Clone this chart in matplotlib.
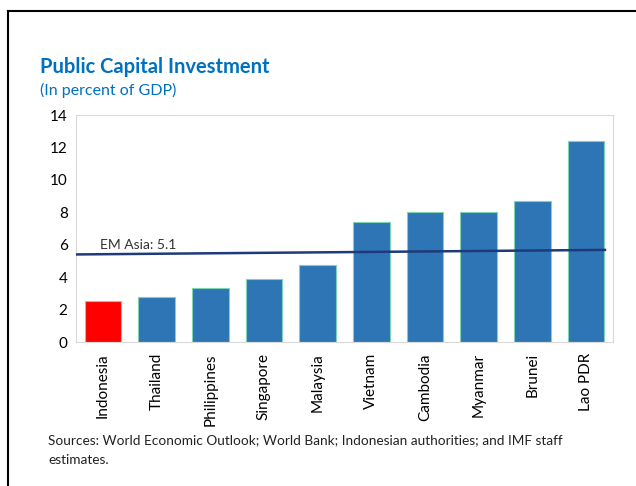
import numpy as np
import matplotlib.pyplot as plt
from matplotlib.lines import Line2D

countries = ["Indonesia", "Thailand", "Philippines", "Singapore", "Malaysia",
             "Vietnam", "Cambodia", "Myanmar", "Brunei", "Lao PDR"]
values = [2.5, 2.8, 3.3, 3.9, 4.75, 7.4, 8.0, 8.0, 8.7, 12.4]
em_x = [-0.5, 9.35]
em_y = [5.4, 5.68]
em_label = "EM Asia: 5.1"
yticks = [0, 2, 4, 6, 8, 10, 12, 14]

plt.rcParams['font.family'] = ['Lato', 'DejaVu Sans']

fig = plt.figure(figsize=(6.36, 4.86), dpi=100)
ax = fig.add_axes([76/636, 1-342/486, (613-76)/636, (342-115)/486])

x = np.arange(len(countries))
colors = ['#FF0000'] + ['#2E75B6']*(len(countries)-1)
ax.bar(x, values, width=0.68, color=colors, edgecolor='#7FD3B0', linewidth=0.8, zorder=2)
ax.plot(em_x, em_y, color='#1F3A7A', lw=1.8, zorder=3)
ax.text(-0.05, 5.75, em_label, fontsize=10, color='#333333', zorder=4)

ax.set_xlim(-0.5, 9.5)
ax.set_ylim(0, 14)
ax.set_yticks(yticks)
ax.set_xticks(x)
ax.set_xticklabels(countries, rotation=90, fontsize=11)
ax.tick_params(length=0, labelsize=11, pad=6)
ax.tick_params(axis='x', pad=8)
for s in ax.spines.values():
    s.set_color('#D9D9D9')

fig.text(40/636, 1-67/486, "Public Capital Investment", fontsize=14.5, fontweight='bold',
         color='#0070C0', va='center')
fig.text(40/636, 1-90/486, "(In percent of GDP)", fontsize=11.5, color='#0070C0', va='center')
fig.text(48/636, 1-440/486, "Sources: World Economic Outlook; World Bank; Indonesian authorities; and IMF staff",
         fontsize=9.8, color='#222222', va='center')
fig.text(48/636, 1-460/486, "estimates.", fontsize=9.8, color='#222222', va='center')

# outer frame (left and top)
fig.add_artist(Line2D([8/636, 8/636], [0, 1-11/486], color='black', lw=1.5))
fig.add_artist(Line2D([8/636, 1], [1-11/486, 1-11/486], color='black', lw=1.5))

fig.savefig("out.png", dpi=100)
